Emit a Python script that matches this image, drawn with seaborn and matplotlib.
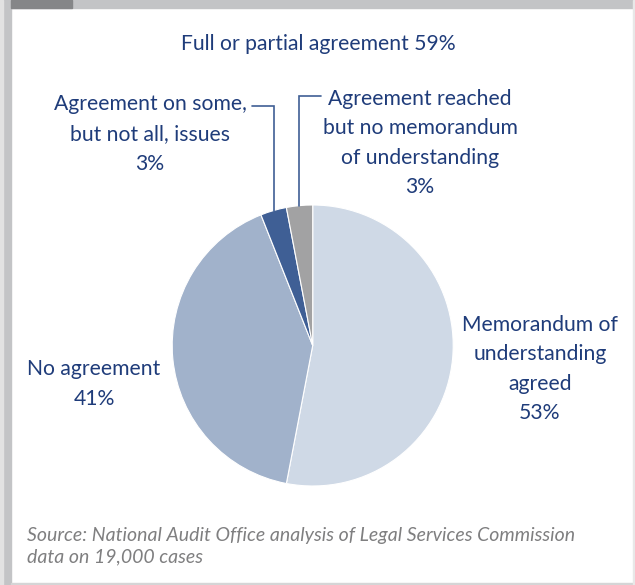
import numpy as np
import matplotlib
matplotlib.use("Agg")
import matplotlib.pyplot as plt
from matplotlib.patches import Rectangle
import seaborn as sns

# -----------------------------
# Data
# -----------------------------
categories = [
    "Memorandum of\nunderstanding\nagreed",
    "No agreement",
    "Agreement on some,\nbut not all, issues",
    "Agreement reached\nbut no memorandum\nof understanding",
]
shares = [53, 41, 3, 3]
colours = ["#CFD9E6", "#A1B2CB", "#3F5F95", "#A2A2A3"]
title = "Full or partial agreement 59%"
source = "Source: National Audit Office analysis of Legal Services Commission\ndata on 19,000 cases"

sns.set_theme(style="white")
plt.rcParams["font.family"] = ["Lato", "DejaVu Sans"]

W, H = 635, 585
fig = plt.figure(figsize=(W / 100, H / 100), dpi=100)
fig.patch.set_facecolor("white")

def fx(x):
    return x / W

def fy(y):
    return 1 - y / H

# -----------------------------
# Frame
# -----------------------------
fig.patches.append(Rectangle((fx(11), fy(8)), 1, 8 / H, transform=fig.transFigure,
                             color="#C3C4C6", zorder=0))
fig.patches.append(Rectangle((fx(11), fy(8)), 61 / W, 8 / H, transform=fig.transFigure,
                             color="#858688", zorder=1))
fig.patches.append(Rectangle((fx(3), 0), 8 / W, 1, transform=fig.transFigure,
                             color="#C3C4C6", zorder=0))
fig.patches.append(Rectangle((0, 0), 3 / W, 1, transform=fig.transFigure,
                             color="#E2E2E2", zorder=0))
fig.patches.append(Rectangle((fx(11), 0), 1, 2 / H, transform=fig.transFigure,
                             color="#D5D5D6", zorder=0))
fig.patches.append(Rectangle((fx(633), 0), 2 / W, 1, transform=fig.transFigure,
                             color="#E8E8E8", zorder=0))

# -----------------------------
# Pie
# -----------------------------
cx, cy, r = 312.7, 345.5, 140.5
ax = fig.add_axes([fx(cx - r), fy(cy + r), 2 * r / W, 2 * r / H])
wedges, _ = ax.pie(shares, colors=colours, startangle=90, counterclock=False,
                   wedgeprops=dict(edgecolor="white", linewidth=0.8))
ax.set_xlim(-1, 1)
ax.set_ylim(-1, 1)
ax.set_axis_off()

text_col = "#1F3C7A"
line_col = "#3F5F95"

# leader lines for the two small slices
for w, label_y, dx in [(wedges[2], 106, -22), (wedges[3], 96, 22)]:
    mid = np.deg2rad((w.theta1 + w.theta2) / 2)
    x0, y0 = np.cos(mid), np.sin(mid)
    yt = (cy - label_y) / r
    ax.plot([x0, x0, x0 + dx / r], [y0, yt, yt], color=line_col, lw=1.2,
            clip_on=False, solid_joinstyle="miter")

# -----------------------------
# Labels
# -----------------------------
fs = 15.2
fig.text(fx(318), fy(44), title, ha="center", va="center", fontsize=fs, color=text_col)

label_pos = [(540, 369), (94, 384), (150, 134), (420, 143)]
for name, val, (px, py) in zip(categories, shares, label_pos):
    fig.text(fx(px), fy(py), f"{name}\n{val}%", ha="center", va="center",
             multialignment="center", fontsize=fs, color=text_col, linespacing=1.6)

fig.text(fx(27), fy(546), source, ha="left", va="center", fontsize=14,
         color="#7F7F80", style="italic", linespacing=1.35)

fig.savefig("out.png", dpi=100)
